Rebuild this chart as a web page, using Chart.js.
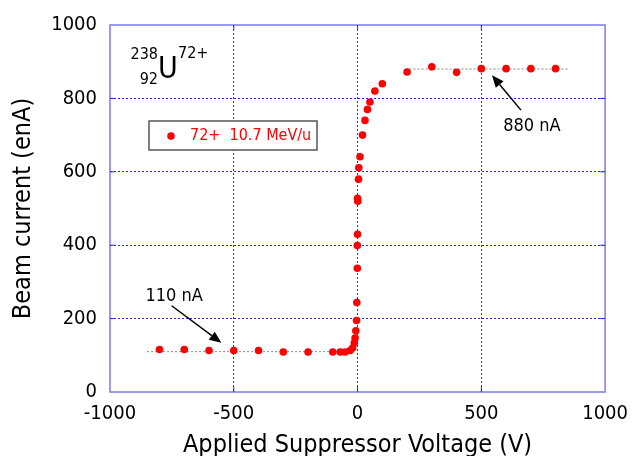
<!DOCTYPE html>
<html>
<head>
<meta charset="utf-8">
<script src="https://cdn.jsdelivr.net/npm/chart.js@4/dist/chart.umd.min.js"></script>
<style>
  html, body { margin: 0; padding: 0; background: #ffffff; }
  #wrap { width: 638px; height: 456px; }
</style>
</head>
<body>
<div id="wrap"><canvas id="chart" width="638" height="456"></canvas></div>
<script>
// measured beam current vs suppressor voltage (238U 72+, 10.7 MeV/u)
var voltage = [-800, -700, -600, -500, -400, -300, -200, -100, -70, -50, -30, -20, -13, -10, -7, -4, -3,
               -1, -1, 0, 0, 1, 4, 5, 10, 20, 30, 40, 50, 70, 100,
               200, 300, 400, 500, 600, 700, 800];
var current = [116, 116, 113, 113, 113, 109, 109, 109, 109, 109, 113, 120, 134, 147, 167, 195, 244,
               337, 399, 430, 528, 520, 580, 611, 641, 700, 740, 770, 790, 820, 840,
               872, 886, 871, 881, 881, 881, 881];

// dotted guide levels (110 nA and 880 nA)
var guideV = [-850, -25, null, 210, 850];
var guideI = [110, 110, null, 880, 880];

var xTicks = [-1000, -500, 0, 500, 1000];
var yTicks = [0, 200, 400, 600, 800, 1000];

var FONT = '"DejaVu Sans Condensed", "DejaVu Sans", sans-serif';
var GRID_BLUE = '#2a2ae0';
var FRAME_BLUE = '#7a7af0';

function toPoints(xs, ys){
  var pts = [];
  for (var i = 0; i < xs.length; i++) {
    pts.push(xs[i] === null ? {x: null, y: null} : {x: xs[i], y: ys[i]});
  }
  return pts;
}

// frame, inner ticks, legend box and text annotations
var decorations = {
  id: 'decorations',
  afterDatasetsDraw: function(chart){
    var ctx = chart.ctx, a = chart.chartArea;
    var xs = chart.scales.x, ys = chart.scales.y;
    ctx.save();
    // frame
    ctx.strokeStyle = FRAME_BLUE;
    ctx.lineWidth = 1.5;
    ctx.strokeRect(a.left, a.top, a.right - a.left, a.bottom - a.top);
    // inner ticks
    ctx.strokeStyle = GRID_BLUE;
    ctx.lineWidth = 1;
    ctx.beginPath();
    xTicks.slice(1, -1).forEach(function(v){
      var px = xs.getPixelForValue(v);
      ctx.moveTo(px, a.bottom); ctx.lineTo(px, a.bottom - 5);
      ctx.moveTo(px, a.top); ctx.lineTo(px, a.top + 5);
    });
    yTicks.slice(1, -1).forEach(function(v){
      var py = ys.getPixelForValue(v);
      ctx.moveTo(a.left, py); ctx.lineTo(a.left + 5, py);
      ctx.moveTo(a.right, py); ctx.lineTo(a.right - 5, py);
    });
    ctx.stroke();

    // legend box
    var lx = a.left + 39, ly = a.top + 96;
    ctx.fillStyle = '#ffffff';
    ctx.fillRect(lx, ly, 168, 29);
    ctx.strokeStyle = '#555555';
    ctx.lineWidth = 1.5;
    ctx.strokeRect(lx, ly, 168, 29);
    ctx.fillStyle = '#ff0000';
    ctx.beginPath();
    ctx.arc(lx + 22, ly + 15, 3.8, 0, Math.PI * 2);
    ctx.fill();
    ctx.font = '16px ' + FONT;
    ctx.textBaseline = 'middle';
    ctx.textAlign = 'left';
    ctx.fillText(chart.data.datasets[0].label, lx + 41, ly + 15);

    // isotope label
    ctx.fillStyle = '#000000';
    ctx.textBaseline = 'alphabetic';
    ctx.font = '16px ' + FONT;
    ctx.textAlign = 'right';
    ctx.fillText('238', a.left + 48, a.top + 34);
    ctx.fillText('92', a.left + 48, a.top + 59);
    ctx.font = '30px ' + FONT;
    ctx.textAlign = 'left';
    ctx.fillText('U', a.left + 48, a.top + 53);
    ctx.font = '16px ' + FONT;
    ctx.fillText('72+', a.left + 68, a.top + 33);

    // arrows with values
    ctx.textBaseline = 'middle';
    ctx.font = '18px ' + FONT;
    ctx.textAlign = 'center';
    ctx.fillText('110 nA', xs.getPixelForValue(-741), ys.getPixelForValue(262));
    ctx.fillText('880 nA', xs.getPixelForValue(704), ys.getPixelForValue(724));
    drawArrow(ctx, xs.getPixelForValue(-751), ys.getPixelForValue(235),
                   xs.getPixelForValue(-550), ys.getPixelForValue(134));
    drawArrow(ctx, xs.getPixelForValue(660), ys.getPixelForValue(768),
                   xs.getPixelForValue(543), ys.getPixelForValue(863));
    ctx.restore();
  }
};

function drawArrow(ctx, x1, y1, x2, y2){
  var ang = Math.atan2(y2 - y1, x2 - x1), hl = 12, hw = 5;
  var bx = x2 - hl * Math.cos(ang), by = y2 - hl * Math.sin(ang);
  ctx.strokeStyle = '#000000';
  ctx.lineWidth = 1.5;
  ctx.beginPath();
  ctx.moveTo(x1, y1); ctx.lineTo(bx, by);
  ctx.stroke();
  ctx.fillStyle = '#000000';
  ctx.beginPath();
  ctx.moveTo(x2, y2);
  ctx.lineTo(bx + hw * Math.sin(ang), by - hw * Math.cos(ang));
  ctx.lineTo(bx - hw * Math.sin(ang), by + hw * Math.cos(ang));
  ctx.closePath();
  ctx.fill();
}

function edgeHidden(ctx){
  var n = ctx.scale.ticks.length;
  return (ctx.index === 0 || ctx.index === n - 1) ? 'rgba(0,0,0,0)' : GRID_BLUE;
}

function plainLabel(v){ return String(v); }

var chart = new Chart(document.getElementById('chart'), {
  type: 'scatter',
  data: {
    datasets: [
      {
        label: '72+  10.7 MeV/u',
        data: toPoints(voltage, current),
        backgroundColor: '#ff0000',
        borderColor: '#ff0000',
        pointRadius: 3.8,
        pointBorderWidth: 0,
        showLine: false,
        order: 0
      },
      {
        label: 'guide',
        data: toPoints(guideV, guideI),
        showLine: true,
        spanGaps: false,
        borderColor: '#8a8a8a',
        borderWidth: 1,
        borderDash: [2, 2],
        pointRadius: 0,
        order: 1
      }
    ]
  },
  options: {
    responsive: false,
    animation: false,
    layout: { padding: { top: 24, right: 32, left: 0, bottom: 0 } },
    plugins: { legend: { display: false }, tooltip: { enabled: false } },
    scales: {
      x: {
        type: 'linear', min: -1000, max: 1000,
        afterBuildTicks: function(s){ s.ticks = xTicks.map(function(v){ return {value: v}; }); },
        afterFit: function(s){ s.height = 64; },
        ticks: { color: '#000', font: { family: FONT, size: 20 }, padding: 10, maxRotation: 0, callback: plainLabel },
        grid: { color: edgeHidden, lineWidth: 1, drawTicks: false },
        border: { display: false, dash: [2, 2] },
        title: { display: true, text: 'Applied Suppressor Voltage (V)', color: '#000',
                 font: { family: FONT, size: 25, lineHeight: 1.0 }, padding: { top: 0, bottom: -2 } }
      },
      y: {
        type: 'linear', min: 0, max: 1000,
        afterBuildTicks: function(s){ s.ticks = yTicks.map(function(v){ return {value: v}; }); },
        afterFit: function(s){ s.width = 110; },
        ticks: { color: '#000', font: { family: FONT, size: 20 }, padding: 13, callback: plainLabel },
        grid: { color: edgeHidden, lineWidth: 1, drawTicks: false },
        border: { display: false, dash: [2, 2] },
        title: { display: true, text: 'Beam current (enA)', color: '#000',
                 font: { family: FONT, size: 25 }, padding: { top: 8, bottom: 0 } }
      }
    }
  },
  plugins: [decorations]
});
</script>
</body>
</html>
